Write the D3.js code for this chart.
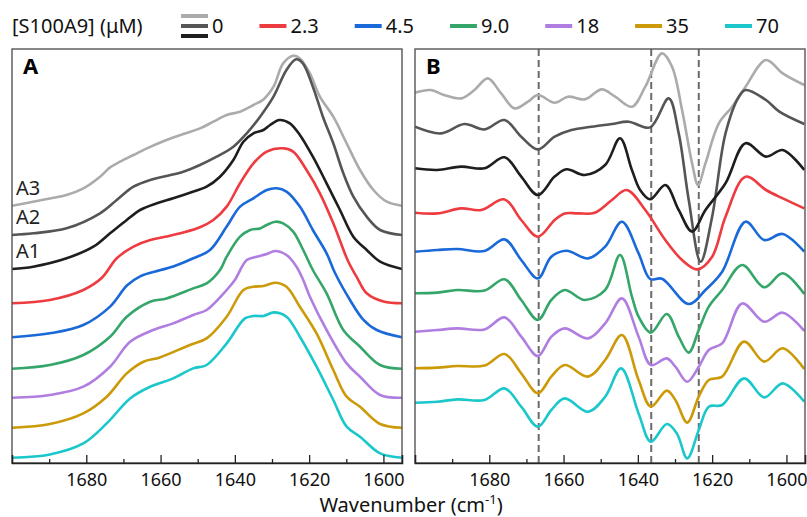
<!DOCTYPE html>
<html>
<head>
<meta charset="utf-8">
<script src="https://cdn.jsdelivr.net/npm/d3@7"></script>
<style>
  body { margin: 0; background: #fff; }
  svg { display: block; font-family: "Noto Sans", sans-serif; }
</style>
</head>
<body>
<div id="chart"></div>
<script>
// concentrations of S100A9 (µM), one legend entry each; "0" covers the three control spectra A3/A2/A1
let concentrations = ["0", "2.3", "4.5", "9.0", "18", "35", "70"];
let seriesNames = ["A3", "A2", "A1", "2.3", "4.5", "9.0", "18", "35", "70"];
let seriesColors = ["#ababab", "#555555", "#1e1e1e", "#ee3b40", "#1a69d9", "#35a669", "#b07ee0", "#cc9a08", "#1bc7cb"];

let wavenumberTicks = [1680, 1660, 1640, 1620, 1600];
let wavenumberMinor = [1690, 1670, 1650, 1630, 1610];
let bandPositions = [1666.7, 1636.4, 1623.6];   // dashed lines in B

// stacking offsets (a.u.)
let offsetsA = [257.3, 228, 194, 159.7, 125.7, 94.3, 65.3, 35.3, 5.3];
let offsetsB = [370.3, 336.3, 294.7, 250.3, 211.3, 169.7, 131.3, 94.7, 60.3];

// panel A: absorbance (a.u.) vs wavenumber
let absA3 = [[1700,0],[1694.3,4],[1689.8,7.3],[1685.3,10.7],[1680.8,17.3],[1676.3,29],[1673.6,38.3],[1670.9,44],[1667.3,50.7],[1663.7,57.3],[1658.4,65.7],[1653.9,71.7],[1649.4,77.3],[1645.8,84],[1642.2,90.7],[1638.6,94],[1635.0,100.7],[1632.3,106.3],[1629.6,119],[1627.0,142.3],[1624.3,150],[1622.5,147.3],[1619.8,132.3],[1617.1,109],[1613.5,89],[1609.9,62.3],[1606.3,35.7],[1602.7,15.7],[1599.1,4],[1595,0]];
let absA2 = [[1700,0],[1694.3,1.7],[1685.3,6.7],[1676.3,21.7],[1671.8,35],[1667.3,48.3],[1662.8,55],[1658.4,59],[1653.9,63.3],[1649.4,70],[1644.9,78.3],[1640.4,88.3],[1636.8,101.7],[1633.2,118.3],[1629.6,138.3],[1626.1,165],[1623.5,175.7],[1621.7,171.7],[1619.0,148.3],[1616.3,118.3],[1613.5,91.7],[1610.8,61.7],[1608.1,38.3],[1604.5,18.3],[1600.9,5],[1595,0]];
let absA1 = [[1700,0],[1694.3,2.3],[1685.3,10.7],[1678.1,22.3],[1673.6,35.7],[1669.1,49],[1665.5,59],[1661.0,65.7],[1656.6,70.7],[1652.1,76.3],[1647.6,82.3],[1644.0,92.3],[1640.4,109],[1637.7,127.3],[1635.0,135.7],[1632.3,139],[1630.5,144],[1628.0,149],[1625.2,145.7],[1622.5,134],[1619.0,112.3],[1615.3,85.7],[1611.7,59],[1608.1,32.3],[1604.5,19],[1600.9,7.3],[1595,0]];
let abs2_3 = [[1700,0],[1689.8,3.3],[1680.8,13.3],[1675.8,25.5],[1671.8,45],[1667.3,56.7],[1662.8,63.3],[1658.4,66.7],[1653.9,70.7],[1649.4,76],[1645.8,83.3],[1642.2,96.7],[1638.6,120],[1635.0,140],[1631.4,151.7],[1627.1,155],[1624.3,151.7],[1620.7,133.3],[1617.1,110],[1613.5,80],[1609.5,42],[1607,25],[1604.5,10],[1600,1.7],[1595,0]];
let abs4_5 = [[1700,0],[1689.8,4],[1680.8,12.3],[1673.6,30.7],[1669,52],[1665.5,61],[1660.2,67],[1656.6,70.7],[1651.2,79],[1646.7,87.3],[1642.2,110.7],[1638.6,130.7],[1635.0,139],[1631.4,147.3],[1628.7,149],[1626.1,145.7],[1622.5,130.7],[1619.0,107.3],[1615.3,84],[1613,64],[1609,37.3],[1605.5,18],[1601.8,7.3],[1595,0]];
let abs9_0 = [[1700,0],[1689.8,3.7],[1680.8,13.7],[1673.6,32],[1669.1,52],[1662.8,67],[1658.4,70.3],[1651.2,80.3],[1647.6,85.3],[1644,98.7],[1642.2,112],[1638.6,132],[1635.9,138.7],[1633.2,140.3],[1631.4,143.7],[1629.1,147],[1627.0,145.3],[1624.3,137],[1621.6,118.7],[1619.0,98.7],[1615.3,75.3],[1610.8,38.7],[1606.3,22],[1600.9,3.7],[1595,0]];
let abs18 = [[1700,0],[1689.8,2.7],[1680.8,11],[1673.6,31],[1668.2,56],[1662,67.7],[1656.6,74.3],[1651.2,82.7],[1647.6,87.7],[1642.2,107.7],[1640,117.7],[1636.8,137.7],[1634.1,141],[1631.4,143.7],[1629.2,146.7],[1626.1,142.7],[1623.4,131],[1621.6,117.7],[1619.8,101],[1615.3,67.7],[1609.9,34.3],[1606.3,21],[1600.9,2.7],[1595,0]];
let abs35 = [[1700,0],[1689.8,3.7],[1680.8,14.3],[1674.5,31],[1669.1,54.3],[1664.6,66],[1660.2,70.3],[1652.1,82.7],[1647.6,89.3],[1642.2,111],[1637.7,137.7],[1635,141],[1632.3,141.7],[1629.2,145],[1626.1,141],[1622.5,121],[1618,94.3],[1613.5,57.7],[1609.9,31],[1606.3,21],[1600.9,3.7],[1595,0]];
let abs70 = [[1700,0],[1689.8,3.3],[1680.8,14.3],[1674.5,34.3],[1668.2,59.3],[1662.8,71],[1656.6,79.3],[1651.2,89.3],[1647.6,92.7],[1642.2,114.3],[1637.3,139.3],[1635,141.7],[1632.3,141.7],[1629.5,145.3],[1626.1,141],[1622.5,121],[1618,91],[1613.5,57.7],[1609.9,31],[1606.3,21],[1600.9,4.3],[1595,0]];

// panel B: second derivative (a.u.)
let d2A3 = [[1700,0],[1695.8,2.7],[1692.2,-2.3],[1687.6,-5.7],[1684.0,2.7],[1680.4,14.3],[1676.8,-0.7],[1673.2,-15.7],[1669.6,-9],[1666.9,-2.3],[1662.4,-10],[1658.8,-4],[1654.3,-6.7],[1649.7,3.3],[1646.1,-4],[1641.6,-14],[1638.0,6],[1633.5,39.3],[1630.8,26],[1628.1,-17.3],[1625.4,-70.7],[1623.8,-92.3],[1621.8,-70.7],[1618.2,-30.7],[1614.6,-14],[1611.0,6],[1605.5,32.7],[1601.0,19.3],[1595.2,7.7]];
let d2A2 = [[1700,0],[1693.0,-6.7],[1686.7,2.7],[1681.3,-2.7],[1675.9,6.7],[1671.4,-10],[1666.9,-22.7],[1662.4,-10],[1657.9,-3.3],[1652.5,0],[1647.0,2.7],[1642.5,5],[1636.7,-0.7],[1631.7,28.3],[1629.0,-6.7],[1626.3,-73.3],[1623.1,-135],[1620.0,-90],[1616.4,-6.7],[1612.8,30],[1611.0,36.7],[1605.5,26.7],[1601.9,15],[1595.2,2.7]];
let d2A1 = [[1700,0],[1694.0,-1.7],[1687.6,1.7],[1681.3,0],[1675.9,11],[1671.4,-8.3],[1666.9,-26.7],[1662.4,-8.3],[1659.2,-1],[1654.3,-6.7],[1648.8,3.3],[1644.8,30],[1641.6,-1.7],[1639.4,-21.7],[1636.7,-31],[1632.6,-16.7],[1629.0,-41.7],[1625.4,-63.3],[1621.8,-41.7],[1616.4,-15],[1611.0,25],[1605.5,11.7],[1601.0,18.3],[1595.2,-1.7]];
let d2_2_3 = [[1700,0],[1694.0,-0.7],[1687.6,4.3],[1682.2,2.7],[1675.9,13.3],[1671.4,-7.3],[1666.9,-24],[1662.4,-7.3],[1659.7,-0.7],[1656.1,-0.7],[1651.6,0],[1647.0,12.7],[1643.0,22.7],[1638.0,2.7],[1632.6,-27.3],[1628.1,-47.3],[1624.0,-56.7],[1620.0,-44],[1616.4,-4],[1611.0,36],[1605.5,22.7],[1601.0,14.3],[1595.2,4.3]];
let d2_4_5 = [[1700,0],[1694.0,1.7],[1688.6,2.7],[1681.3,0.7],[1675.9,12.3],[1671.4,-8.3],[1666.9,-26.7],[1663.3,-5],[1659.2,1],[1653.4,-6.7],[1648.8,5],[1644.3,30],[1639.8,-1.7],[1636.7,-27.3],[1633.5,-27],[1626.3,-52.3],[1621.8,-38.3],[1617.3,-20],[1611.0,30],[1606.0,11.7],[1601.0,17.7],[1595.2,0]];
let d2_9_0 = [[1700,0],[1694.0,0.7],[1688.6,3.3],[1681.3,2.7],[1675.9,14],[1671.4,-6.7],[1666.9,-26.7],[1663.3,-6.7],[1659.7,3.3],[1654.3,-6.7],[1648.8,3.3],[1644.8,38.3],[1641.6,-3.3],[1639.8,-23.3],[1636.5,-39.3],[1632.2,-20.7],[1629.0,-43.3],[1626.3,-59.3],[1623.6,-36.7],[1620.9,-13.3],[1617.3,3.3],[1611.9,28.3],[1606.0,6],[1601.0,20],[1595.2,-0.7]];
let d2_18 = [[1700,0],[1694.0,1.7],[1688.6,3.3],[1681.3,2.3],[1675.9,14.3],[1671.4,-5],[1666.9,-24.3],[1663.3,-5],[1659.7,3.3],[1653.4,-6.7],[1648.8,8.3],[1644.3,33.3],[1639.8,-5],[1636.5,-33.3],[1632.2,-26.7],[1629.9,-35],[1626.7,-50],[1623.6,-35],[1620.9,-18.3],[1617.3,-11.7],[1611.9,28.3],[1606.0,10],[1601.0,19],[1595.2,0.7]];
let d2_35 = [[1700,0],[1694.0,0.7],[1688.6,2.3],[1681.3,2.7],[1675.9,14.3],[1671.4,-5],[1666.9,-25],[1663.3,-8.3],[1659.7,3.3],[1653.4,-8.3],[1648.8,8.3],[1644.3,33.3],[1639.8,-11.7],[1636.5,-38.3],[1632.2,-22.3],[1629.9,-31.7],[1626.7,-54.3],[1623.6,-28.3],[1620.9,-11.7],[1617.3,-8.3],[1611.4,26.7],[1606.0,6.7],[1601.0,20],[1595.2,-0.7]];
let d2_70 = [[1700,0],[1694.0,1],[1688.6,3.3],[1681.3,2.7],[1675.9,14.3],[1671.4,-4],[1666.9,-24],[1663.3,-7.3],[1659.7,4.3],[1653.4,-9],[1648.8,6],[1644.5,34.3],[1639.8,-10.7],[1636.5,-39],[1632.2,-21.3],[1629.5,-30.7],[1626.7,-55.7],[1623.6,-27.3],[1620.9,-4],[1617.3,-2.3],[1611.4,24.3],[1606.0,5.3],[1601.0,19.3],[1595.2,1]];

let spectraA = [absA3, absA2, absA1, abs2_3, abs4_5, abs9_0, abs18, abs35, abs70];
let spectraB = [d2A3, d2A2, d2A1, d2_2_3, d2_4_5, d2_9_0, d2_18, d2_35, d2_70];

let width = 807;
let height = 517;
let plotTop = 49, plotBottom = 463;

let svg = d3.select('#chart').append('svg')
    .attr('width', width).attr('height', height);

let yScale = d3.scaleLinear()
    .domain([0, 414])
    .range([plotBottom, plotTop]);

function drawPanel(key, left, right, spectra, offsets) {
    let xScale = d3.scaleLinear()
        .domain([1700, 1595])
        .range([left, right]);
    let g = svg.append('g');

    g.append('clipPath').attr('id', 'clip' + key)
        .append('rect')
        .attr('x', left).attr('y', plotTop)
        .attr('width', right - left).attr('height', plotBottom - plotTop);

    if (key === 'B') {
        g.selectAll('line.band')
            .data(bandPositions)
            .enter()
            .append('line')
            .attr('class', 'band')
            .attr('x1', d => xScale(d)).attr('x2', d => xScale(d))
            .attr('y1', plotTop).attr('y2', plotBottom)
            .attr('stroke', '#6b6b6b')
            .attr('stroke-width', 2)
            .attr('stroke-dasharray', '7,4');
    }

    let curves = g.append('g').attr('clip-path', 'url(#clip' + key + ')');
    spectra.forEach((s, i) => {
        let line = d3.line()
            .x(d => xScale(d[0]))
            .y(d => yScale(d[1] + offsets[i]))
            .curve(d3.curveCatmullRom.alpha(0.5));
        curves.append('path')
            .datum(s)
            .attr('d', line)
            .attr('fill', 'none')
            .attr('stroke', seriesColors[i])
            .attr('stroke-width', 2.6)
            .attr('stroke-linejoin', 'round');
    });

    // frame
    g.append('rect')
        .attr('x', left).attr('y', plotTop)
        .attr('width', right - left).attr('height', plotBottom - plotTop)
        .attr('fill', 'none')
        .attr('stroke', '#555')
        .attr('stroke-width', 1.4);

    // x axis, ticks pointing inward
    let xAxis = d3.axisBottom(xScale)
        .tickValues(wavenumberTicks)
        .tickSize(-8)
        .tickPadding(10)
        .tickFormat(d3.format('d'));
    let ax = g.append('g')
        .attr('transform', 'translate(0,' + plotBottom + ')')
        .call(xAxis);
    ax.select('.domain').attr('stroke', '#222').attr('stroke-width', 1.6);
    ax.selectAll('.tick line').attr('stroke', '#222').attr('stroke-width', 1.3);
    ax.selectAll('.tick text')
        .attr('font-size', 18)
        .attr('font-family', '"Noto Sans", sans-serif')
        .attr('fill', '#111');

    let minor = g.append('g')
        .attr('transform', 'translate(0,' + plotBottom + ')')
        .call(d3.axisBottom(xScale).tickValues(wavenumberMinor).tickSize(-4).tickFormat(''));
    minor.select('.domain').remove();
    minor.selectAll('.tick line').attr('stroke', '#222').attr('stroke-width', 1.3);

    g.append('text')
        .attr('x', left + 11).attr('y', 74)
        .attr('font-size', 22)
        .attr('font-weight', 'bold')
        .attr('fill', '#000')
        .text(key);
    return xScale;
}

drawPanel('A', 12, 402, spectraA, offsetsA);
drawPanel('B', 415, 805, spectraB, offsetsB);

// control labels A3/A2/A1 next to the first three spectra
svg.selectAll('text.ctrl')
    .data(seriesNames.slice(0, 3))
    .enter()
    .append('text')
    .attr('class', 'ctrl')
    .attr('x', 16)
    .attr('y', (d, i) => yScale(offsetsA[i]) - 11)
    .attr('font-size', 20)
    .attr('fill', '#222')
    .text(d => d);

// axis title
let title = svg.append('text')
    .attr('x', 411).attr('y', 512)
    .attr('text-anchor', 'middle')
    .attr('font-size', 20)
    .attr('fill', '#111');
title.append('tspan').text('Wavenumber (cm');
title.append('tspan').attr('font-size', 13).attr('dy', -8).text('-1');
title.append('tspan').attr('dy', 8).text(')');

// legend
svg.append('text')
    .attr('x', 12).attr('y', 33)
    .attr('font-size', 20)
    .attr('fill', '#111')
    .text('[S100A9] (μM)');

let lx = 181;
concentrations.forEach((c, i) => {
    if (i === 0) {
        [0, 1, 2].forEach(k => {
            svg.append('line')
                .attr('x1', lx).attr('x2', lx + 27)
                .attr('y1', 16 + k * 10).attr('y2', 16 + k * 10)
                .attr('stroke', seriesColors[k])
                .attr('stroke-width', 4);
        });
    } else {
        svg.append('line')
            .attr('x1', lx).attr('x2', lx + 27)
            .attr('y1', 26).attr('y2', 26)
            .attr('stroke', seriesColors[i + 2])
            .attr('stroke-width', 4);
    }
    let t = svg.append('text')
        .attr('x', lx + 31).attr('y', 33)
        .attr('font-size', 20)
        .attr('fill', '#111')
        .text(c);
    lx = lx + 31 + t.node().getComputedTextLength() + 36;
});
</script>
</body>
</html>
